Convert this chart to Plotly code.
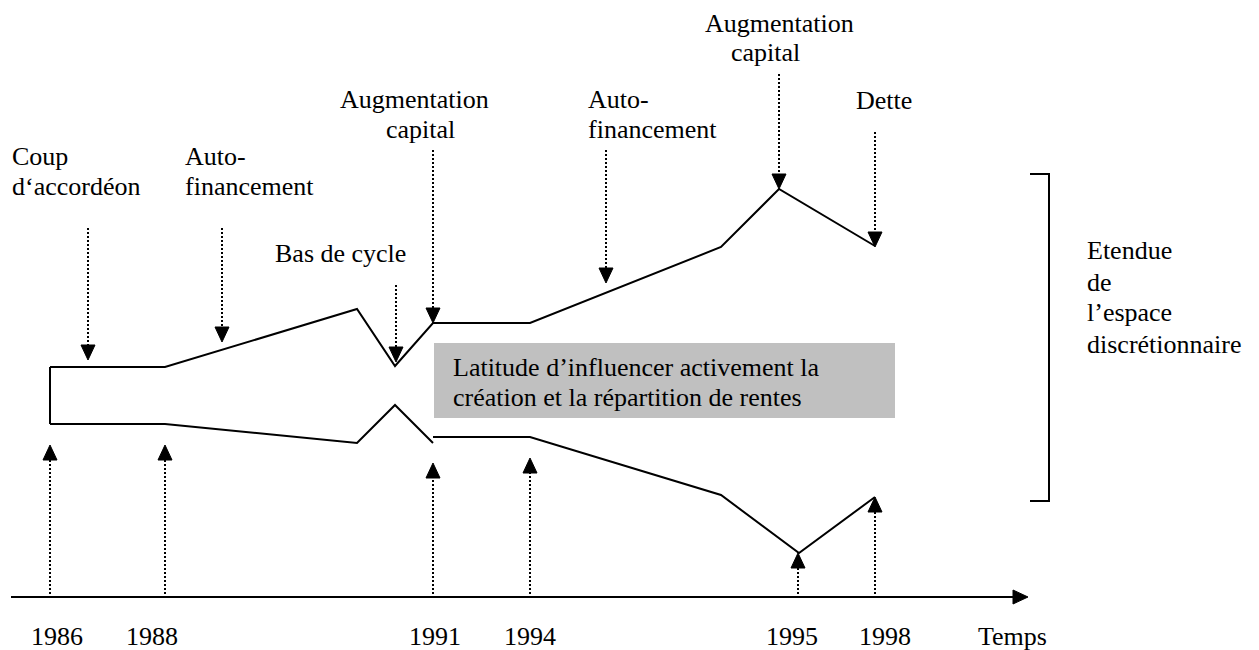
import plotly.graph_objects as go

# ---- data (diagram units = pixels of the 1259x650 canvas) ----
upper_x = [50, 165, 357, 395, 433, 530, 721, 779, 875]
upper_y = [367, 367, 309, 366, 323, 323, 247, 189, 246]

lower_a_x = [50, 165, 357, 395, 433]
lower_a_y = [424, 424, 443, 405, 443]
lower_b_x = [433, 530, 721, 799, 875]
lower_b_y = [437, 437, 495, 553, 497]

left_edge_x = [50, 50]
left_edge_y = [367, 424]

# downward dotted arrows: x, start y, tip y
down_x = [88, 222, 396, 433, 606, 779, 875]
down_y0 = [228, 228, 285, 150, 150, 74, 132]
down_tip = [360, 342, 362, 323, 283, 189, 247]

# upward dotted arrows: x, start y, tip y
up_x = [50, 165, 433, 530, 798, 875]
up_y0 = [594, 594, 594, 594, 594, 594]
up_tip = [445, 445, 463, 458, 553, 497]

axis_x = [11, 1013]
axis_y = 597
axis_tip = 1028

bracket_x = [1030, 1049, 1049, 1030]
bracket_y = [174, 174, 501, 501]

box_x = [434, 895]
box_y = [343, 418]

year_labels = ["1986", "1988", "1991", "1994", "1995", "1998", "Temps"]
year_label_x = [57, 152, 435, 530, 792, 885, 1012]
year_label_y = 636

# top labels: text, x, y, anchor
top_labels = [
    ("Coup", 10, 156, "left"),
    ("d\u2018accordéon", 10, 186, "left"),
    ("Auto-", 183, 156, "left"),
    ("financement", 183, 186, "left"),
    ("Bas de cycle", 273, 253, "left"),
    ("Augmentation", 414, 99, "center"),
    ("capital", 420, 129, "center"),
    ("Auto-", 586, 99, "left"),
    ("financement", 586, 129, "left"),
    ("Augmentation", 779, 23, "center"),
    ("capital", 765, 52, "center"),
    ("Dette", 884, 100, "center"),
]
box_lines = ["Latitude d\u2019influencer activement la",
             "création et la répartition de rentes"]
box_line_y = [367, 397]
box_text_x = 451

side_lines = ["Etendue", "de", "l\u2019espace", "discrétionnaire"]
side_line_y = [250, 282, 312, 344]
side_text_x = 1085

# ---- style ----
FONT = "Liberation Serif, Times New Roman, serif"
FS = 26
HEAD_W = 7   # half width of arrow heads
HEAD_H = 15  # height of arrow heads
PAGE_OFFSET = 8  # default page margin of the html body

fig = go.Figure()

def line(xs, ys, width=2, dash=None):
    fig.add_trace(go.Scatter(x=xs, y=ys, mode="lines",
                             line=dict(color="black", width=width, dash=dash),
                             hoverinfo="skip", showlegend=False))

def tri(xs, ys):
    fig.add_trace(go.Scatter(x=xs, y=ys, mode="lines", fill="toself",
                             fillcolor="black", line=dict(color="black", width=1),
                             hoverinfo="skip", showlegend=False))

# grey box
fig.add_trace(go.Scatter(x=[box_x[0], box_x[1], box_x[1], box_x[0], box_x[0]],
                         y=[box_y[0], box_y[0], box_y[1], box_y[1], box_y[0]],
                         mode="lines", fill="toself", fillcolor="#C0C0C0",
                         line=dict(width=0, color="#C0C0C0"),
                         hoverinfo="skip", showlegend=False))

# curves
line(upper_x, upper_y)
line(lower_a_x, lower_a_y)
line(lower_b_x, lower_b_y)
line(left_edge_x, left_edge_y)

# axis
line(axis_x, [axis_y, axis_y])
tri([axis_x[1], axis_tip, axis_x[1], axis_x[1]],
    [axis_y - HEAD_W, axis_y, axis_y + HEAD_W, axis_y - HEAD_W])

# bracket
line(bracket_x, bracket_y)

# down arrows
for x, y0, t in zip(down_x, down_y0, down_tip):
    line([x, x], [y0, t - HEAD_H], width=2, dash="2px,2px")
    tri([x - HEAD_W, x + HEAD_W, x, x - HEAD_W],
        [t - HEAD_H, t - HEAD_H, t, t - HEAD_H])

# up arrows
for x, y0, t in zip(up_x, up_y0, up_tip):
    line([x, x], [y0, t + HEAD_H], width=2, dash="2px,2px")
    tri([x - HEAD_W, x + HEAD_W, x, x - HEAD_W],
        [t + HEAD_H, t + HEAD_H, t, t + HEAD_H])

ann = []
def text(s, x, y, anchor="left"):
    ann.append(dict(text=s, x=x, y=y, xref="x", yref="y", xanchor=anchor,
                    yanchor="middle", showarrow=False,
                    font=dict(family=FONT, size=FS, color="black")))

for s, x in zip(year_labels, year_label_x):
    text(s, x, year_label_y, "center")
for s, x, y, a in top_labels:
    text(s, x, y, a)
for s, y in zip(box_lines, box_line_y):
    text(s, box_text_x, y, "left")
for s, y in zip(side_lines, side_line_y):
    text(s, side_text_x, y, "left")

W, H = 1259, 650
fig.update_layout(
    width=W, height=H,
    margin=dict(l=0, r=0, t=0, b=0),
    paper_bgcolor="white", plot_bgcolor="white",
    xaxis=dict(range=[PAGE_OFFSET, W + PAGE_OFFSET], visible=False, fixedrange=True),
    yaxis=dict(range=[H + PAGE_OFFSET, PAGE_OFFSET], visible=False, fixedrange=True),
    annotations=ann,
    showlegend=False,
)

fig.write_html("out.html", config={"displayModeBar": False})
